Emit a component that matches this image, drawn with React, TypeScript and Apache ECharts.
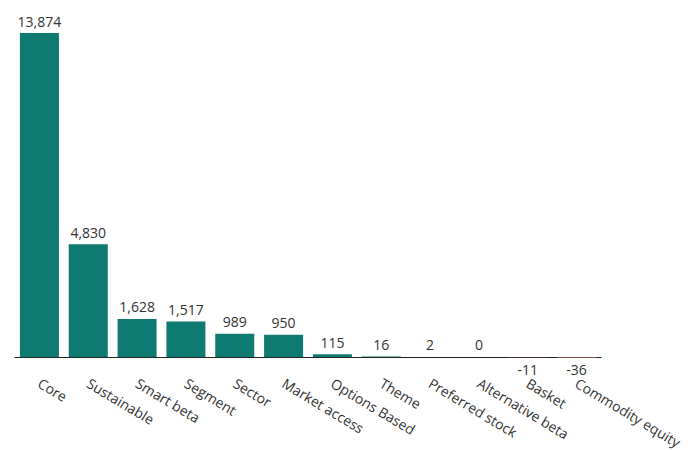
import React, { useEffect, useRef } from "react";
import * as echarts from "echarts";

const categories = [
  "Core",
  "Sustainable",
  "Smart beta",
  "Segment",
  "Sector",
  "Market access",
  "Options Based",
  "Theme",
  "Preferred stock",
  "Alternative beta",
  "Basket",
  "Commodity equity",
];
const values = [13874, 4830, 1628, 1517, 989, 950, 115, 16, 2, 0, -11, -36];

const TEAL = "#0e7a72";
const NEG = "#b0605a";
const FONT = "'Open Sans', 'Noto Sans', sans-serif";

export default function App() {
  const ref = useRef<HTMLDivElement>(null);
  useEffect(() => {
    if (!ref.current) return;
    const chart = echarts.init(ref.current, undefined, { renderer: "svg" });
    chart.setOption({
      animation: false,
      backgroundColor: "#ffffff",
      grid: {
        left: 15,
        right: 99,
        top: 33,
        bottom: 92.2,
        containLabel: false,
        outerBoundsMode: "none",
      },
      xAxis: {
        type: "category",
        data: categories,
        axisLine: { onZero: true, lineStyle: { color: "#222", width: 1.2 } },
        axisTick: { show: false },
        axisLabel: {
          interval: 0,
          rotate: -31,
          margin: 24,
          color: "#333",
          fontSize: 14,
          fontFamily: FONT,
        },
      },
      yAxis: {
        type: "value",
        min: -36,
        max: 13874,
        show: false,
        splitLine: { show: false },
      },
      series: [
        {
          type: "bar",
          barWidth: 39,
          data: values.map((v) => ({
            value: v,
            itemStyle: { color: v < 0 ? NEG : TEAL },
            label: { position: v < 0 ? "bottom" : "top" },
          })),
          label: {
            show: true,
            color: "#333",
            fontSize: 14,
            fontFamily: FONT,
            distance: 5,
            formatter: (p: any) => Number(p.value).toLocaleString("en-US"),
          },
        },
      ],
    });
    return () => chart.dispose();
  }, []);
  return (
    <div
      ref={ref}
      style={{ position: "fixed", left: 0, top: 0, width: 700, height: 450 }}
    />
  );
}
